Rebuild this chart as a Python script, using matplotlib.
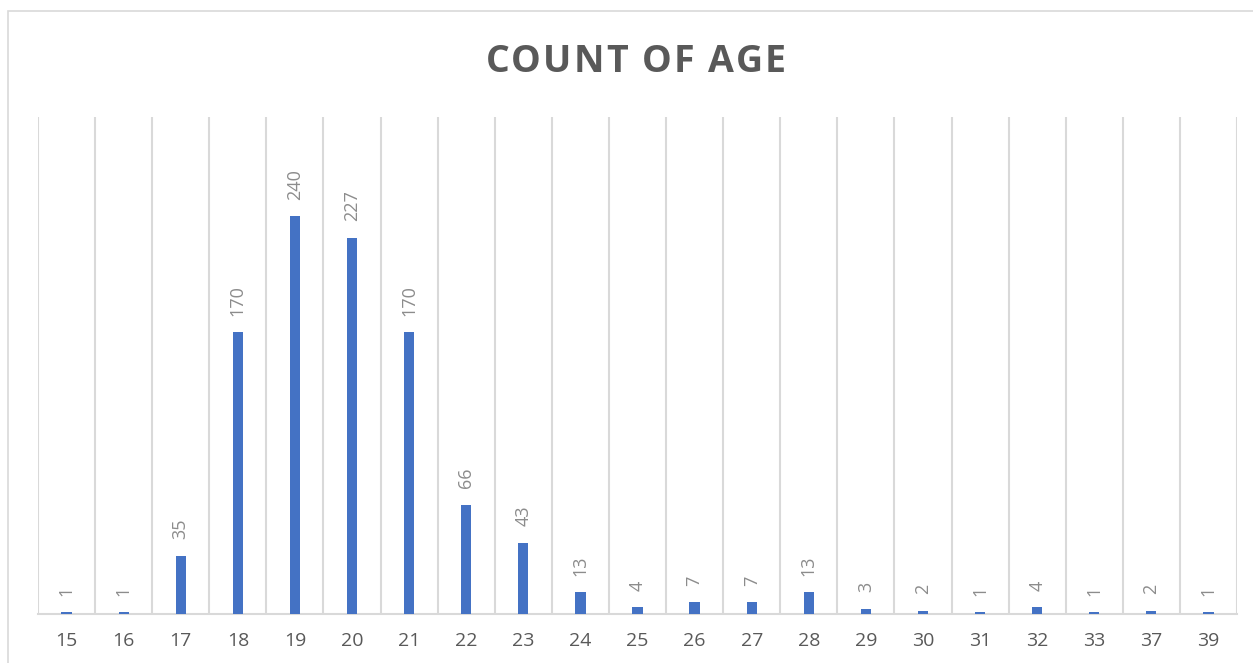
import numpy as np
import matplotlib.pyplot as plt
from matplotlib.patches import Rectangle

ages = ['15', '16', '17', '18', '19', '20', '21', '22', '23', '24', '25', '26', '27',
        '28', '29', '30', '31', '32', '33', '37', '39']
counts = [1, 1, 35, 170, 240, 227, 170, 66, 43, 13, 4, 7, 7, 13, 3, 2, 1, 4, 1, 2, 1]

plt.rcParams['font.family'] = ['Open Sans', 'DejaVu Sans']

W, H = 1253, 663


def spaced_title(fig, s, cx, baseline, total_w, **kw):
    # matplotlib has no letter spacing, so place the letters one by one
    r = fig.canvas.get_renderer()

    def width(t):
        tmp = fig.text(0, 0, t, **kw)
        w = tmp.get_window_extent(r).width
        tmp.remove()
        return w

    natural = width(s)
    track = (total_w - natural) / (len(s) - 1)
    left = cx - total_w / 2
    for i, ch in enumerate(s):
        if ch == ' ':
            continue
        xpos = left + width(s[:i + 1]) - width(ch) + i * track
        fig.text(xpos / W, 1 - baseline / H, ch, ha='left', va='baseline', **kw)


fig = plt.figure(figsize=(W / 100, H / 100), dpi=100)
ax = fig.add_axes([38 / W, 49 / H, 1199 / W, 497 / H])

# chart area border (only top and left visible in the crop)
fig.patches.append(Rectangle((8 / W, -0.1), 1.2, (652 / H) + 0.1, transform=fig.transFigure,
                             fill=False, edgecolor='#d9d9d9', linewidth=1.2))

x = np.arange(len(ages))
ax.bar(x, counts, width=0.18, color='#4472C4', zorder=3)

for xi, c in zip(x, counts):
    ax.annotate(str(c), (xi, c), xytext=(0, 12), textcoords='offset points',
                rotation=90, ha='center', va='bottom', fontsize=13, color='#8c8c8c')

ax.set_xlim(-0.5, len(ages) - 0.5)
ax.set_ylim(0, 300)
ax.set_xticks(x)
ax.set_xticklabels(ages, fontsize=14, color='#595959')
ax.set_xticks(np.arange(-0.5, len(ages)), minor=True)
ax.tick_params(axis='x', which='both', length=0, pad=13)
ax.set_yticks([])
ax.grid(which='minor', axis='x', color='#d9d9d9', linewidth=1.5, zorder=0)

for side in ['top', 'right', 'left']:
    ax.spines[side].set_visible(False)
ax.spines['bottom'].set_color('#d9d9d9')
ax.spines['bottom'].set_linewidth(1.5)

spaced_title(fig, 'COUNT OF AGE', 636, 72, 300, fontsize=27, fontweight='bold', color='#595959')

plt.savefig('out.png')
